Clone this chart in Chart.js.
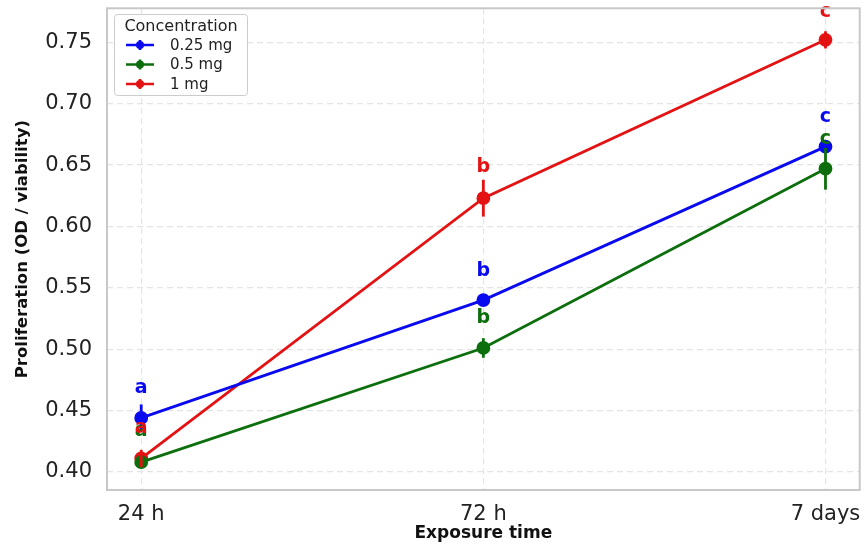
<!DOCTYPE html>
<html>
<head>
<meta charset="utf-8">
<script src="https://cdn.jsdelivr.net/npm/chart.js@4.4.1/dist/chart.umd.min.js"></script>
<style>
  html, body { margin: 0; padding: 0; background: #fff; }
  #wrap { width: 868px; height: 544px; }
</style>
</head>
<body>
<div id="wrap"><canvas id="c" width="868" height="544"></canvas></div>
<script>
(function () {
  'use strict';

  const timeLabels = ['24 h', '72 h', '7 days'];
  const seriesNames = ['0.25 mg', '0.5 mg', '1 mg'];
  const seriesColors = ['#0a0af0', '#0c6e0c', '#e41212'];

  const mean025 = [0.444, 0.540, 0.665];
  const mean05 = [0.408, 0.501, 0.647];
  const mean1 = [0.411, 0.623, 0.752];

  const err025 = [0.011, 0.004, 0.003];
  const err05 = [0.003, 0.008, 0.017];
  const err1 = [0.007, 0.015, 0.007];

  const letters025 = ['a', 'b', 'c'];
  const letters05 = ['a', 'b', 'c'];
  const letters1 = ['a', 'b', 'c'];

  // where each letter sits (value units)
  const letterY025 = [0.468, 0.564, 0.689];
  const letterY05 = [0.433, 0.525, 0.671];
  const letterY1 = [0.436, 0.648, 0.775];

  const yTicks = [0.40, 0.45, 0.50, 0.55, 0.60, 0.65, 0.70, 0.75];

  const means = [mean025, mean05, mean1];
  const errs = [err025, err05, err1];
  const letters = [letters025, letters05, letters1];
  const letterYs = [letterY025, letterY05, letterY1];

  const font = "'DejaVu Sans', sans-serif";

  const datasets = seriesNames.map((name, i) => ({
    label: name,
    data: means[i].map((v, j) => ({ x: j, y: v })),
    borderColor: seriesColors[i],
    backgroundColor: seriesColors[i],
    borderWidth: 2.8,
    pointRadius: 5.5,
    pointHoverRadius: 5.5,
    tension: 0
  }));

  const extras = {
    id: 'extras',
    afterDatasetsDraw(chart) {
      const ctx = chart.ctx;
      const xs = chart.scales.x;
      const ys = chart.scales.y;
      ctx.save();
      // error bars
      means.forEach((m, i) => {
        ctx.strokeStyle = seriesColors[i];
        ctx.lineWidth = 2.8;
        m.forEach((v, j) => {
          const px = xs.getPixelForValue(j);
          ctx.beginPath();
          ctx.moveTo(px, ys.getPixelForValue(v - errs[i][j]));
          ctx.lineTo(px, ys.getPixelForValue(v + errs[i][j]));
          ctx.stroke();
        });
      });
      // significance letters
      ctx.font = 'bold 19px ' + font;
      ctx.textAlign = 'center';
      ctx.textBaseline = 'middle';
      letters.forEach((ls, i) => {
        ctx.fillStyle = seriesColors[i];
        ls.forEach((t, j) => {
          ctx.fillText(t, xs.getPixelForValue(j), ys.getPixelForValue(letterYs[i][j]));
        });
      });
      ctx.restore();
    },
    afterDraw(chart) {
      const ctx = chart.ctx;
      const a = chart.chartArea;
      ctx.save();
      // frame
      ctx.strokeStyle = '#c8c8c8';
      ctx.lineWidth = 2;
      ctx.strokeRect(a.left, a.top, a.right - a.left, a.bottom - a.top);
      // legend
      const lx = 114, ly = 14, lw = 133, lh = 81;
      ctx.fillStyle = 'rgba(255,255,255,0.9)';
      ctx.strokeStyle = '#cccccc';
      ctx.lineWidth = 1;
      ctx.beginPath();
      ctx.roundRect(lx + 0.5, ly + 0.5, lw, lh, 3);
      ctx.fill();
      ctx.stroke();
      ctx.fillStyle = '#222';
      ctx.font = '16px ' + font;
      ctx.textAlign = 'center';
      ctx.textBaseline = 'middle';
      ctx.fillText('Concentration', lx + lw / 2 + 0.5, ly + 13);
      ctx.font = '15px ' + font;
      ctx.textAlign = 'left';
      seriesNames.forEach((name, i) => {
        const ry = ly + 31 + i * 19.5;
        ctx.strokeStyle = seriesColors[i];
        ctx.fillStyle = seriesColors[i];
        ctx.lineWidth = 2.6;
        ctx.beginPath();
        ctx.moveTo(lx + 12, ry);
        ctx.lineTo(lx + 40, ry);
        ctx.moveTo(lx + 26, ry - 5);
        ctx.lineTo(lx + 26, ry + 5);
        ctx.stroke();
        ctx.beginPath();
        ctx.arc(lx + 26, ry, 4, 0, Math.PI * 2);
        ctx.fill();
        ctx.fillStyle = '#222';
        ctx.fillText(name, lx + 56, ry + 1);
      });
      ctx.restore();
    }
  };

  new Chart(document.getElementById('c').getContext('2d'), {
    type: 'line',
    data: { datasets },
    options: {
      responsive: false,
      animation: false,
      layout: { padding: { left: 0, right: 6, top: 8, bottom: 0 } },
      plugins: { legend: { display: false }, tooltip: { enabled: false } },
      scales: {
        x: {
          type: 'linear',
          min: -0.1,
          max: 2.1,
          afterBuildTicks: s => { s.ticks = [0, 1, 2].map(v => ({ value: v })); },
          afterFit: s => { s.height = 54; s.paddingLeft = 0; s.paddingRight = 0; },
          grid: { color: '#e4e4e4', lineWidth: 1.2, drawTicks: false },
          border: { display: false, dash: [6, 4] },
          ticks: {
            padding: 12,
            color: '#222',
            font: { family: font, size: 21 },
            callback: v => timeLabels[v]
          },
          title: {
            display: true,
            text: 'Exposure time',
            color: '#111',
            font: { family: font, size: 17, weight: 'bold' },
            padding: { top: 0, bottom: 0 }
          }
        },
        y: {
          min: 0.3853,
          max: 0.7777,
          afterBuildTicks: s => { s.ticks = yTicks.map(v => ({ value: v })); },
          afterFit: s => { s.width = 107; s.paddingTop = 0; s.paddingBottom = 0; },
          grid: { color: '#e4e4e4', lineWidth: 1.2, drawTicks: false },
          border: { display: false, dash: [6, 4] },
          ticks: {
            padding: 15,
            color: '#222',
            font: { family: font, size: 21 },
            callback: v => v.toFixed(2)
          },
          title: {
            display: true,
            text: 'Proliferation (OD / viability)',
            color: '#111',
            font: { family: font, size: 16.5, weight: 'bold' },
            padding: { top: 13, bottom: 4 }
          }
        }
      }
    },
    plugins: [extras]
  });
})();
</script>
</body>
</html>
